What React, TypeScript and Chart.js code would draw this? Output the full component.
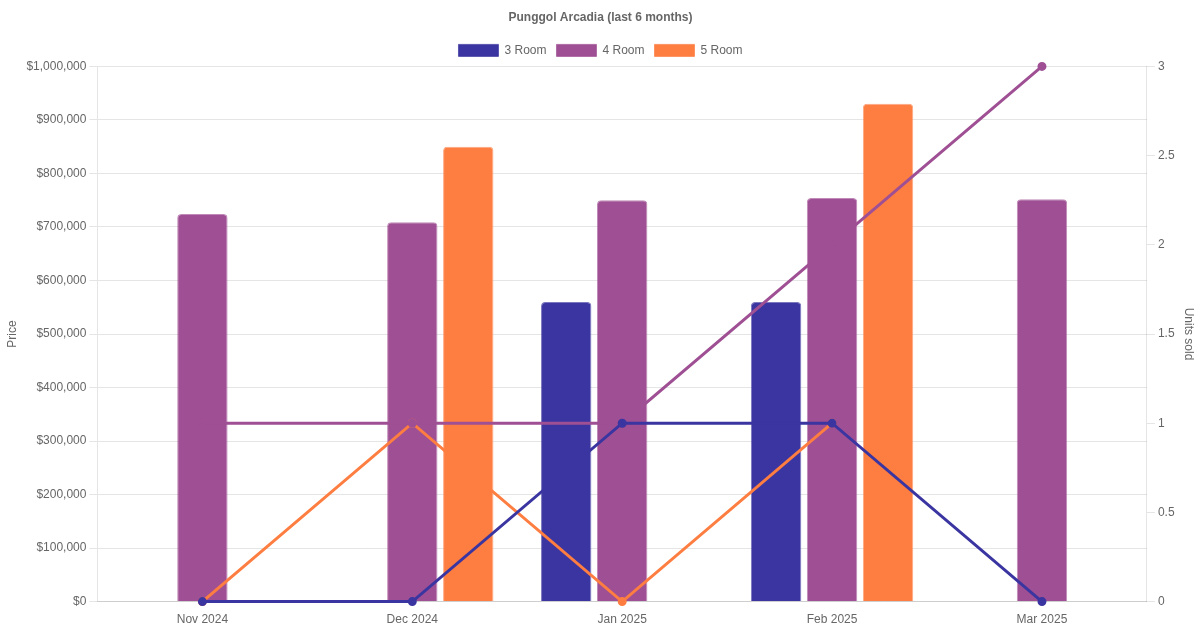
import { useEffect, useRef } from 'react';
import { Chart, registerables } from 'chart.js';

Chart.register(...registerables);

const months = ['Nov 2024', 'Dec 2024', 'Jan 2025', 'Feb 2025', 'Mar 2025'];

// average price per month (null = no sale)
const price3Room = [null, null, 560000, 560000, null];
const price4Room = [724000, 709000, 750000, 754000, 752000];
const price5Room = [null, 850000, null, 930000, null];

// units sold per month
const units3Room = [0, 0, 1, 1, 0];
const units4Room = [1, 1, 1, 2, 3];
const units5Room = [0, 1, 0, 1, null];

const BLUE = '#3a35a0';
const PURPLE = '#9f4f93';
const ORANGE = '#fe7d41';

const App = () => {
  const chartRef = useRef<HTMLCanvasElement>(null);
  const chartInstance = useRef<Chart | null>(null);

  useEffect(() => {
    if (chartInstance.current) {
      chartInstance.current.destroy();
    }
    if (!chartRef.current) return;
    const ctx = chartRef.current.getContext('2d');
    if (!ctx) return;

    const bar = (label: string, data: (number | null)[], color: string) => ({
      type: 'bar' as const,
      label,
      data,
      backgroundColor: color,
      borderColor: color + 'aa',
      borderWidth: 1,
      borderRadius: 4,
      borderSkipped: 'bottom' as const,
      yAxisID: 'y',
      order: 1,
    });

    const line = (label: string, data: (number | null)[], color: string) => ({
      type: 'line' as const,
      label,
      data,
      borderColor: color,
      backgroundColor: color,
      pointBackgroundColor: color,
      pointBorderColor: color,
      borderWidth: 3,
      pointRadius: 3,
      tension: 0,
      fill: false,
      clip: false,
      yAxisID: 'y1',
      order: 0,
    });

    chartInstance.current = new Chart(ctx, {
      type: 'bar',
      data: {
        labels: months,
        datasets: [
          bar('3 Room', price3Room, BLUE),
          bar('4 Room', price4Room, PURPLE),
          bar('5 Room', price5Room, ORANGE),
          line('3 Room units', units3Room, BLUE),
          line('4 Room units', units4Room, PURPLE),
          line('5 Room units', units5Room, ORANGE),
        ] as any,
      },
      options: {
        animation: false,
        responsive: true,
        maintainAspectRatio: false,
        layout: { padding: { left: 1 } },
        plugins: {
          title: {
            display: true,
            text: 'Punggol Arcadia (last 6 months)',
          },
          legend: {
            labels: {
              filter: (item) => (item.datasetIndex ?? 0) < 3,
            },
          },
        },
        scales: {
          x: {
            grid: { display: false },
          },
          y: {
            position: 'left',
            min: 0,
            max: 1000000,
            ticks: {
              stepSize: 100000,
              callback: (v) => '$' + Number(v).toLocaleString('en-US'),
            },
            title: { display: true, text: 'Price' },
          },
          y1: {
            position: 'right',
            min: 0,
            max: 3,
            ticks: {
              stepSize: 0.5,
              callback: (v) => String(Number(v)),
            },
            grid: { drawOnChartArea: false },
            title: { display: true, text: 'Units sold' },
          },
        },
      },
    });

    return () => {
      if (chartInstance.current) {
        chartInstance.current.destroy();
        chartInstance.current = null;
      }
    };
  }, []);

  return (
    <div style={{ position: 'absolute', left: 0, top: 0, width: 1200, height: 630 }}>
      <canvas ref={chartRef}></canvas>
    </div>
  );
};

export default App;
